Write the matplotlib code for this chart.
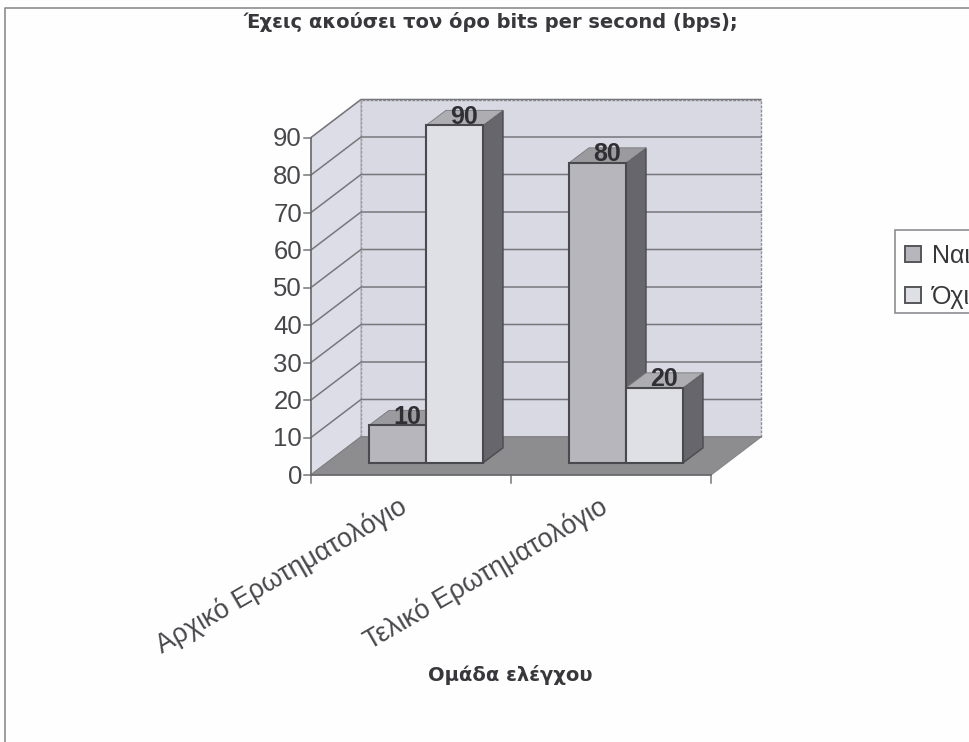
#!/usr/bin/env python3
"""3-D style clustered column chart of the yes/no answers per questionnaire."""

import matplotlib
matplotlib.use('Agg')
import matplotlib.pyplot as plt
from matplotlib.patches import Polygon, Rectangle

plt.rcParams['font.family'] = ['Liberation Sans', 'DejaVu Sans']

title = 'Έχεις ακούσει τον όρο bits per second (bps);'
xlabel = 'Ομάδα ελέγχου'
categories = ['Αρχικό Ερωτηματολόγιο', 'Τελικό Ερωτηματολόγιο']
series_names = ['Ναι', 'Όχι']
yes_values = [10, 80]
no_values = [90, 20]
y_ticks = [0, 10, 20, 30, 40, 50, 60, 70, 80, 90]

W, H = 970, 742

# oblique projection settings, all in pixels
X0, Y0 = 311, 475      # front-left corner of the floor
PX_PER_UNIT = 37.5 / 10
CAT_WIDTH = 200
DEPTH_X, DEPTH_Y = 50, 38
BAR_W = 57
BAR_DX, BAR_DY = 20, 15
BAR_FRONT_DEPTH = 0.32  # fraction of the floor depth in front of the bars
BAR_GAP = 44            # from the category start to the first bar

EDGE = '#4a4a4e'
WALL = '#d8d9e3'
SIDE_WALL = '#dcdde6'
FLOOR = '#8d8d8f'
TEXT = '#38383c'
BACKGROUND = '#fefefe'


def project(x, value, depth=0.0):
    """x in pixels along the category axis, value in data units, depth in 0..1"""
    return (X0 + x + DEPTH_X * depth, Y0 - value * PX_PER_UNIT - DEPTH_Y * depth)


def draw_bar(ax, left, value, front, top, side):
    dpt = BAR_FRONT_DEPTH
    x0, y0 = project(left, 0, dpt)
    x1, y1 = project(left + BAR_W, value, dpt)
    ax.add_patch(Polygon([(x1, y0), (x1 + BAR_DX, y0 - BAR_DY),
                          (x1 + BAR_DX, y1 - BAR_DY), (x1, y1)],
                         facecolor=side, edgecolor=EDGE, lw=1.0, zorder=3))
    ax.add_patch(Polygon([(x0, y1), (x1, y1), (x1 + BAR_DX, y1 - BAR_DY),
                          (x0 + BAR_DX, y1 - BAR_DY)],
                         facecolor=top, edgecolor='#77777b', lw=0.6, zorder=3))
    ax.add_patch(Rectangle((x0, y1), x1 - x0, y0 - y1, facecolor=front,
                           edgecolor=EDGE, lw=1.5, zorder=4))
    ax.text((x0 + x1) / 2 + BAR_DX / 2 - 0.5, y1 - BAR_DY / 2 - 1, str(value),
            ha='center', va='center', fontsize=18, fontweight='bold',
            color='#303034', zorder=6)


fig = plt.figure(figsize=(W / 100, H / 100), dpi=100, facecolor=BACKGROUND)
ax = fig.add_axes([0, 0, 1, 1])
ax.set_xlim(0, W)
ax.set_ylim(H, 0)
ax.axis('off')

# outer chart frame, open at the bottom and right
ax.plot([5, 5, W], [H, 8, 8], color='#8c8c90', lw=1.2)

top_val = y_ticks[-1]
span = CAT_WIDTH * len(categories)

# walls and floor
ax.add_patch(Polygon([project(0, 0, 1), project(span, 0, 1), project(span, top_val, 1),
                      project(0, top_val, 1)], facecolor=WALL, edgecolor='#8e8e92',
                     lw=1.0, ls=(0, (2, 1))))
ax.add_patch(Polygon([project(0, 0), project(0, 0, 1), project(0, top_val, 1),
                      project(0, top_val)], facecolor=SIDE_WALL, edgecolor='#a8a8ac', lw=0.8))
ax.add_patch(Polygon([project(0, 0), project(span, 0), project(span, 0, 1), project(0, 0, 1)],
                     facecolor=FLOOR, edgecolor='#858587', lw=0.8, zorder=2))

# gridlines on the walls and the value axis ticks
for v in y_ticks:
    xs, ys = zip(project(0, v), project(0, v, 1), project(span, v, 1))
    ax.plot(xs, ys, color='#77777b', lw=1.1, zorder=1)
    x, y = project(0, v)
    ax.plot([x - 7, x], [y, y], color='#77777b', lw=1.1)
    ax.text(x - 9, y + 2, str(v), ha='right', va='center', fontsize=18.5, color='#48484c')

# axis lines
xs, ys = zip(project(0, top_val), project(0, 0), project(span, 0))
ax.plot(xs, ys, color='#66666a', lw=1.1, zorder=2.5)
for i in range(len(categories) + 1):
    x, y = project(CAT_WIDTH * i, 0)
    ax.plot([x, x], [y, y + 8], color='#77777b', lw=1.1)

# columns
for i in range(len(categories)):
    start = CAT_WIDTH * i + BAR_GAP - 2.0
    draw_bar(ax, start, yes_values[i], '#b6b6bc', '#9b9b9f', '#66666c')
    draw_bar(ax, start + BAR_W, no_values[i], '#dfdfe6', '#aeaeb2', '#66666c')

# rotated category labels, anchored at the end of the text
for i, name in enumerate(categories):
    x, y = project(CAT_WIDTH * (i + 0.5), 0)
    ax.text(x - 13, y + 18, name, rotation=30, rotation_mode='anchor', ha='right',
            va='top', fontsize=19.3, color='#48484c')

ax.text(491, 22, title, ha='center', va='center', fontsize=14, fontweight='bold',
        color=TEXT, family='DejaVu Sans')
ax.text(510, 675, xlabel, ha='center', va='center', fontsize=14, fontweight='bold',
        color=TEXT, family='DejaVu Sans')

# legend runs off the right side of the figure
ax.add_patch(Rectangle((895, 230), 90, 83, facecolor=BACKGROUND, edgecolor='#8e8e92', lw=1.2, zorder=5))
for y, name, col in zip([254, 295], series_names, ['#b6b6bc', '#dfdfe6']):
    ax.add_patch(Rectangle((905, y - 8), 16, 16, facecolor=col, edgecolor='#55555a', lw=1.4, zorder=6))
    ax.text(932, y + 2, name, ha='left', va='center', fontsize=18, color=TEXT, zorder=6)

fig.savefig('out.png', dpi=100, facecolor=fig.get_facecolor())
